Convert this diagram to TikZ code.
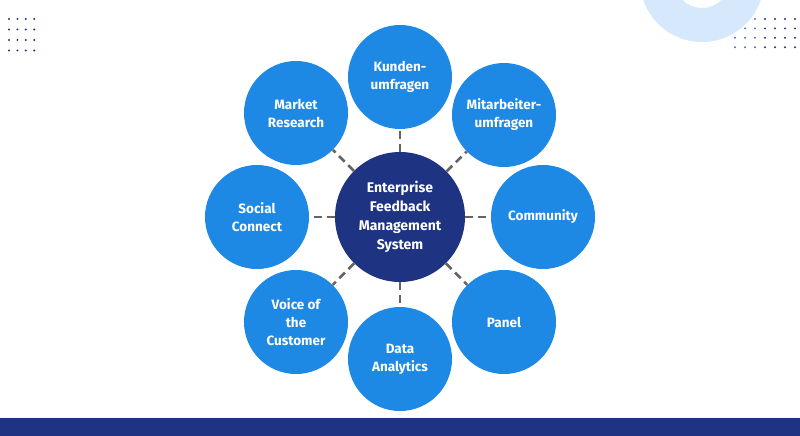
\documentclass[tikz,border=0pt]{standalone}
\usepackage{fontspec}
\setmainfont{Fira Sans}
\definecolor{outerblue}{RGB}{30,136,229}
\definecolor{navy}{RGB}{30,52,130}
\definecolor{ringblue}{RGB}{214,232,251}
\definecolor{dotblue}{RGB}{70,120,200}
\definecolor{linegray}{RGB}{100,100,100}
\tikzset{
  outernode/.style={circle, fill=outerblue, minimum size=104pt, inner sep=0pt, text=white, align=center, font=\fontsize{13.5}{18}\selectfont\bfseries},
  centernode/.style={circle, fill=navy, minimum size=130pt, inner sep=0pt, text=white, align=center, font=\fontsize{14}{19}\selectfont\bfseries},
  conn/.style={draw=linegray, line width=2.6pt, dash pattern=on 8pt off 5pt},
  dotmark/.style={circle, inner sep=0pt, minimum size=2.4pt}
}
\begin{document}
\begin{tikzpicture}[x=1pt,y=-1pt]
\useasboundingbox (0,0) rectangle (800,436);
\fill[white] (0,0) rectangle (800,436);
% top-left dots
\foreach \i in {0,...,3}{\foreach \j in {0,...,3}{
  \fill[navy] (9+8.4*\i,19+10.5*\j) circle (1.1pt);}}
% top-right dots
\foreach \i in {0,...,6}{\foreach \j in {0,...,3}{
  \pgfmathsetmacro{\cc}{\i<3 ? 1 : 0}
  \ifdim\cc pt>0.5pt \fill[dotblue] (735+10*\i,19+9.4*\j) circle (1.1pt);
  \else \fill[navy] (735+10*\i,19+9.4*\j) circle (1.1pt); \fi}}
% ring
\fill[ringblue, even odd rule] (702,-20) circle (62pt) (702,-20) circle (28pt);
% bottom bar
\fill[navy] (0,418) rectangle (800,436);
% nodes
\node[centernode] (c) at (400,217) {Enterprise\\Feedback\\Management\\System};
\node[outernode] (ku) at (400,77) {Kunden-\\umfragen};
\node[outernode] (mi) at (504,115) {Mitarbeiter-\\umfragen};
\node[outernode] (co) at (543,217) {Community};
\node[outernode] (pa) at (504,322) {Panel};
\node[outernode] (da) at (400,359) {Data\\Analytics};
\node[outernode] (vc) at (296,322) {Voice of\\the\\Customer};
\node[outernode] (sc) at (257,217) {Social\\Connect};
\node[outernode] (mr) at (296,113) {Market\\Research};
% connectors
\foreach \n in {ku,mi,co,pa,da,vc,sc,mr}{
  \draw[conn] (c) -- (\n);}
\end{tikzpicture}
\end{document}
